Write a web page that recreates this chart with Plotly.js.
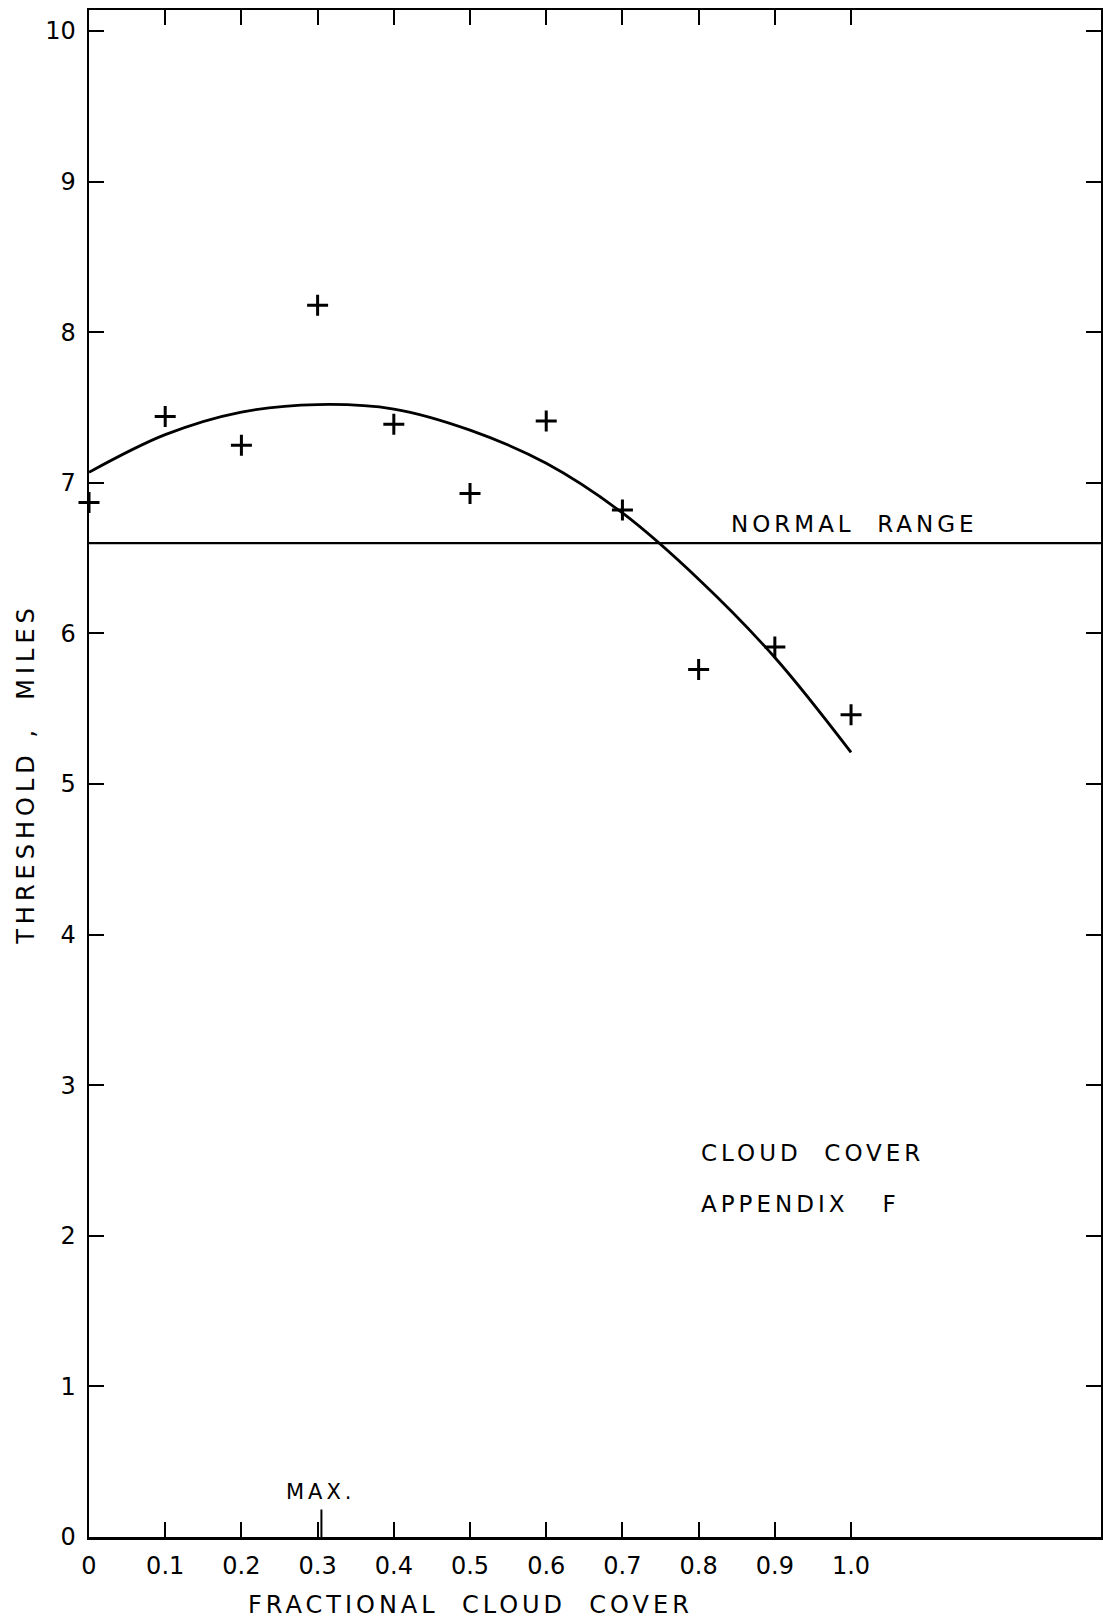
<!DOCTYPE html>
<html><head><meta charset="utf-8">
<script src="https://cdn.plot.ly/plotly-3.0.1.min.js"></script>
<style>
body{margin:0;background:#fff}
#chart{width:1103px;height:1620px}
.annotation-text{letter-spacing:4px}
.ytitle{letter-spacing:5px}
</style></head><body><div id="chart"></div>
<script>
// Observed data points (crosses)
const cloudCover = [0, 0.1, 0.2, 0.3, 0.4, 0.5, 0.6, 0.7, 0.8, 0.9, 1.0];
const threshold  = [6.87, 7.44, 7.25, 8.18, 7.39, 6.93, 7.41, 6.82, 5.76, 5.91, 5.46];
// Fitted curve
const fitCover = [0, 0.1, 0.2, 0.3, 0.4, 0.5, 0.6, 0.7, 0.8, 0.9, 1.0];
const fitThreshold = [7.07, 7.32, 7.47, 7.52, 7.49, 7.35, 7.13, 6.80, 6.36, 5.84, 5.21];
// Reference level and maximum of the fit
const normalRange = 6.6;
const maxCover = 0.305;
// Tick labels
const xTickVals = [0, 0.1, 0.2, 0.3, 0.4, 0.5, 0.6, 0.7, 0.8, 0.9, 1.0];
const xTickText = ['0', '0.1', '0.2', '0.3', '0.4', '0.5', '0.6', '0.7', '0.8', '0.9', '1.0'];
const yTickVals = [0, 1, 2, 3, 4, 5, 6, 7, 8, 9, 10];
const yTickText = ['0', '1', '2', '3', '4', '5', '6', '7', '8', '9', '10'];

const FONT = 'DejaVu Sans, Liberation Sans, sans-serif';
const NB = '\u00a0';

const traces = [
  {
    x: fitCover, y: fitThreshold, mode: 'lines', type: 'scatter',
    line: {color: '#000', width: 2.8, shape: 'spline', smoothing: 1.0},
    hoverinfo: 'skip', showlegend: false
  },
  {
    x: cloudCover, y: threshold, mode: 'markers', type: 'scatter',
    marker: {symbol: 'cross-thin', size: 15, color: '#000', line: {color: '#000', width: 3}},
    showlegend: false, cliponaxis: false
  }
];

const layout = {
  width: 1103, height: 1620,
  margin: {l: 89, r: 2, t: 10, b: 83},
  paper_bgcolor: '#fff', plot_bgcolor: '#fff',
  font: {family: FONT, color: '#000', size: 24},
  showlegend: false,
  xaxis: {
    range: [0, 1.328], tickmode: 'array', tickvals: xTickVals, ticktext: xTickText,
    ticks: 'inside', ticklen: 15, tickwidth: 2, tickcolor: '#000',
    showline: true, linecolor: '#000', linewidth: 2.5, mirror: 'ticks',
    showgrid: false, zeroline: false, ticklabelstandoff: 6,
    tickfont: {family: FONT, size: 24, color: '#000'}
  },
  yaxis: {
    range: [0, 10.14], tickmode: 'array', tickvals: yTickVals, ticktext: yTickText,
    ticks: 'inside', ticklen: 15, tickwidth: 2, tickcolor: '#000',
    showline: true, linecolor: '#000', linewidth: 2.5, mirror: 'ticks',
    showgrid: false, zeroline: false, ticklabelstandoff: 6,
    tickfont: {family: FONT, size: 24, color: '#000'},
    title: {text: 'THRESHOLD' + NB + ',' + NB + NB + 'MILES', standoff: 4,
            font: {family: FONT, size: 24, color: '#000'}}
  },
  shapes: [
    {type: 'line', xref: 'paper', x0: 0, x1: 1, yref: 'y', y0: normalRange, y1: normalRange,
     line: {color: '#000', width: 2.2}},
    {type: 'line', xref: 'x', x0: maxCover, x1: maxCover, yref: 'paper', y0: 0, y1: 0.018,
     line: {color: '#000', width: 2}}
  ],
  annotations: [
    {text: 'NORMAL' + NB + NB + 'RANGE', xref: 'x', yref: 'y', x: 1.005, y: normalRange,
     yanchor: 'bottom', xanchor: 'center', yshift: 4, showarrow: false,
     font: {family: FONT, size: 23, color: '#000'}},
    {text: 'CLOUD' + NB + NB + 'COVER', xref: 'x', yref: 'y', x: 0.8, y: 2.55,
     xanchor: 'left', yanchor: 'middle', showarrow: false,
     font: {family: FONT, size: 23, color: '#000'}},
    {text: 'APPENDIX' + NB + NB + NB + 'F', xref: 'x', yref: 'y', x: 0.8, y: 2.21,
     xanchor: 'left', yanchor: 'middle', showarrow: false,
     font: {family: FONT, size: 23, color: '#000'}},
    {text: 'MAX.', xref: 'x', yref: 'paper', x: maxCover, y: 0.018,
     xanchor: 'center', yanchor: 'bottom', yshift: 4, showarrow: false,
     font: {family: FONT, size: 21, color: '#000'}},
    {text: 'FRACTIONAL' + NB + NB + 'CLOUD' + NB + NB + 'COVER', xref: 'x', yref: 'paper', x: 0.5, y: 0,
     xanchor: 'center', yanchor: 'top', yshift: -52, showarrow: false,
     font: {family: FONT, size: 24, color: '#000'}}
  ]
};

Plotly.newPlot('chart', traces, layout, {staticPlot: true, displayModeBar: false});
</script></body></html>
